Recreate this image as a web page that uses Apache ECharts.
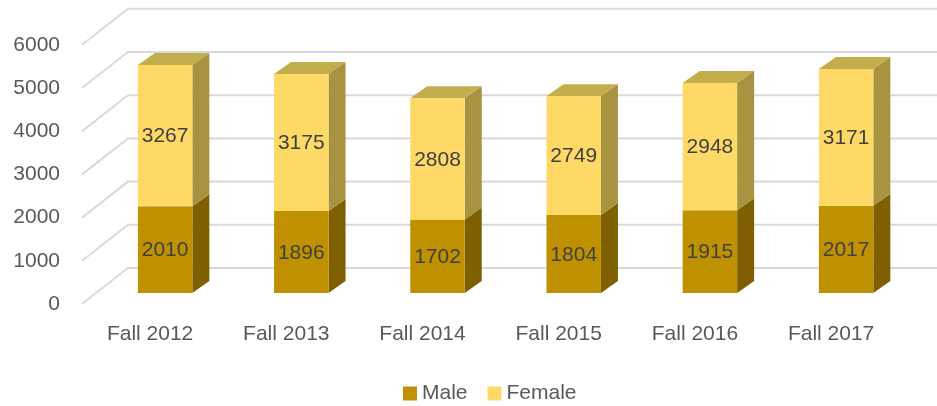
<!DOCTYPE html>
<html>
<head>
<meta charset="utf-8">
<script src="https://cdn.jsdelivr.net/npm/echarts@6/dist/echarts.min.js"></script>
<style>
  html, body { margin: 0; padding: 0; background: #fff; }
  #chart { width: 937px; height: 406px; }
</style>
</head>
<body>
<div id="chart"></div>
<script>
// ===== 数据 =====
const terms = ['Fall 2012', 'Fall 2013', 'Fall 2014', 'Fall 2015', 'Fall 2016', 'Fall 2017']
const male = [2010, 1896, 1702, 1804, 1915, 2017]
const female = [3267, 3175, 2808, 2749, 2948, 3171]
const yTicks = [0, 1000, 2000, 3000, 4000, 5000, 6000]

// ===== 样式 =====
const FONT = 'Liberation Sans, Arial, sans-serif'
const FS = 21
const DEPTH_X = 17, DEPTH_Y = 12       // bar depth
const colors = {
  male: { front: '#BF9000', side: '#7F6000', top: '#A67D00' },
  female: { front: '#FFD966', side: '#A89440', top: '#C4AD4C' },
}

const chart = echarts.init(document.getElementById('chart'))

// 一个堆叠段：正面 + 侧面 (+ 顶面)
function segmentRenderer(base, vals, c, withTop) {
  return function (params, api) {
    const i = api.value(0)
    const b = base ? base[i] : 0
    const p0 = api.coord([i, b])
    const p1 = api.coord([i, b + vals[i]])
    const w = api.size([1, 0])[0] * 0.4
    const xl = p0[0] - w / 2, xr = p0[0] + w / 2
    const yb = p0[1], yt = p1[1]
    const children = [
      { type: 'polygon', shape: { points: [[xr, yt], [xr + DEPTH_X, yt - DEPTH_Y], [xr + DEPTH_X, yb - DEPTH_Y], [xr, yb]] },
        style: { fill: c.side } },
      { type: 'rect', shape: { x: xl, y: yt, width: w, height: yb - yt }, style: { fill: c.front } },
      { type: 'text', x: p0[0], y: (yt + yb) / 2 + 1,
        style: { text: String(vals[i]), fill: '#404040', font: FS + 'px ' + FONT, align: 'center', verticalAlign: 'middle' } },
    ]
    if (withTop) {
      children.unshift({ type: 'polygon',
        shape: { points: [[xl, yt], [xl + DEPTH_X, yt - DEPTH_Y], [xr + DEPTH_X, yt - DEPTH_Y], [xr, yt]] },
        style: { fill: c.top } })
    }
    return { type: 'group', children }
  }
}

const option = {
  animation: false,
  legend: {
    left: 398, top: 378,
    icon: 'rect', itemWidth: 14, itemHeight: 14, itemGap: 20,
    textStyle: { fontSize: FS, color: '#595959', fontFamily: FONT },
    data: [
      { name: 'Male', itemStyle: { color: colors.male.front } },
      { name: 'Female', itemStyle: { color: colors.female.front } },
    ],
  },
  grid: [
    // 柱子正面所在平面
    { left: 97, top: 33.8, width: 817.2, height: 259.2 },
    // 前侧坐标轴平面（刻度文字）
    { left: 82, top: 44.8, width: 817.2, height: 259.2 },
  ],
  xAxis: [
    { gridIndex: 0, type: 'category', data: terms, show: false },
    { gridIndex: 1, type: 'category', data: terms,
      axisLine: { show: false }, axisTick: { show: false },
      axisLabel: { margin: 20, fontSize: FS, color: '#595959', fontFamily: FONT } },
  ],
  yAxis: [
    { gridIndex: 0, type: 'value', min: 0, max: 6000, interval: 1000, show: false },
    { gridIndex: 1, type: 'value', min: 0, max: 6000, interval: 1000,
      axisLine: { show: false }, axisTick: { show: false }, splitLine: { show: false },
      axisLabel: { margin: 22, fontSize: FS, color: '#595959', fontFamily: FONT, formatter: v => String(v) } },
  ],
  series: [
    {
      // 透视网格线
      type: 'custom', name: 'grid', xAxisIndex: 0, yAxisIndex: 0, z: 1, silent: true,
      data: yTicks.map(v => [0, v]),
      renderItem(params, api) {
        const cs = params.coordSys
        const y = api.coord([0, api.value(1)])[1]
        return {
          type: 'polyline',
          shape: { points: [[cs.x - 15, y + 11], [cs.x + 31, y - 25], [cs.x + cs.width + 30, y - 25]] },
          style: { stroke: '#D9D9D9', lineWidth: 2, fill: null },
        }
      },
    },
    {
      type: 'custom', name: 'Male', xAxisIndex: 0, yAxisIndex: 0, z: 3,
      itemStyle: { color: colors.male.front },
      data: male.map((v, i) => [i, v]),
      renderItem: segmentRenderer(null, male, colors.male, false),
    },
    {
      type: 'custom', name: 'Female', xAxisIndex: 0, yAxisIndex: 0, z: 3,
      itemStyle: { color: colors.female.front },
      data: female.map((v, i) => [i, v]),
      renderItem: segmentRenderer(male, female, colors.female, true),
    },
  ],
}

chart.setOption(option)
</script>
</body>
</html>
